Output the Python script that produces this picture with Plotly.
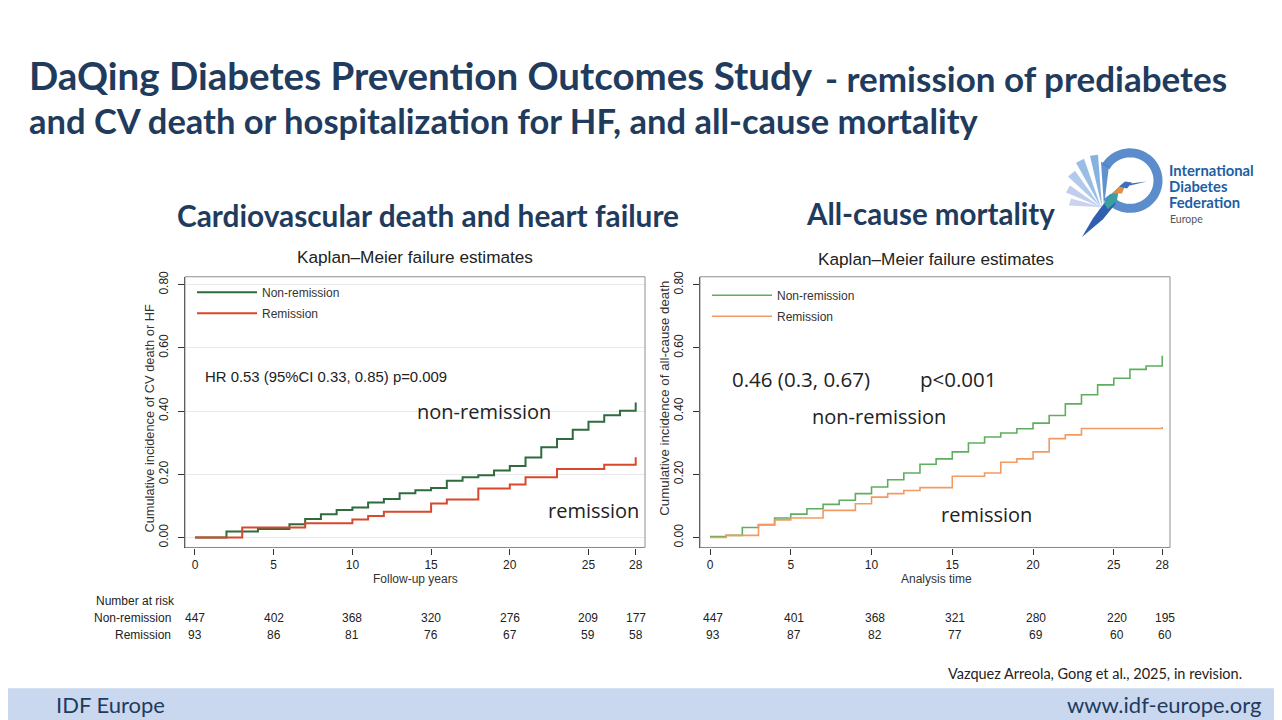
import math
import plotly.graph_objects as go

# ---------------- data ----------------
years_ticks = [0, 5, 10, 15, 20, 25, 28]

# Left: CV death or hospitalization for HF
cv_nonrem_t = [0, 2, 4, 6, 7, 8, 9, 10, 11, 12, 13, 14, 15, 16, 17, 18, 19, 20, 21, 22, 23, 24, 25, 26, 27, 28]
cv_nonrem_y = [0, 0.019, 0.027, 0.042, 0.059, 0.074, 0.087, 0.095, 0.111, 0.122, 0.140, 0.150, 0.157, 0.180,
               0.191, 0.197, 0.212, 0.226, 0.253, 0.286, 0.312, 0.341, 0.366, 0.387, 0.401, 0.427]
cv_rem_t = [0, 3, 7, 10, 11, 12, 15, 16, 18, 20, 21, 23, 26, 28]
cv_rem_y = [0, 0.032, 0.045, 0.057, 0.068, 0.082, 0.108, 0.120, 0.155, 0.168, 0.191, 0.217, 0.230, 0.254]

# Right: all-cause mortality
ac_nonrem_t = list(range(0, 29))
ac_nonrem_y = [0.003, 0.007, 0.032, 0.041, 0.062, 0.074, 0.091, 0.105, 0.118, 0.139, 0.160, 0.183, 0.204,
               0.232, 0.249, 0.271, 0.299, 0.318, 0.331, 0.344, 0.362, 0.386, 0.423, 0.452, 0.483, 0.504,
               0.532, 0.543, 0.575]
ac_rem_t = [0, 1, 3, 4, 5, 7, 9, 10, 11, 12, 13, 15, 17, 18, 19, 20, 21, 22, 23, 28]
ac_rem_y = [0, 0.007, 0.040, 0.056, 0.062, 0.086, 0.107, 0.128, 0.139, 0.149, 0.158, 0.194, 0.204, 0.238,
            0.249, 0.271, 0.313, 0.325, 0.345, 0.350]

# Number at risk
risk_cv_nonrem = [447, 402, 368, 320, 276, 209, 177]
risk_cv_rem = [93, 86, 81, 76, 67, 59, 58]
risk_ac_nonrem = [447, 401, 368, 321, 280, 220, 195]
risk_ac_rem = [93, 87, 82, 77, 69, 60, 60]

y_ticks = [0, 0.2, 0.4, 0.6, 0.8]
y_ticklabels = ["0.00", "0.20", "0.40", "0.60", "0.80"]

# ---------------- helpers (screen px -> paper; page has an 8px body margin) ----------------
OFF = 8
W, H = 1282 - OFF, 720 - OFF
def px(x):
    return (x - OFF) / W
def py(y):
    return 1 - (y - OFF) / H

NAVY = "#1f3b5e"
STATA = "Liberation Sans, Arial, sans-serif"
SLIDE = "Lato, Open Sans, sans-serif"
CAL = "Open Sans, sans-serif"

fig = go.Figure()

fig.add_trace(go.Scatter(x=cv_nonrem_t, y=cv_nonrem_y, mode="lines", line=dict(shape="hv", color="#2f6b3c", width=2),
                         name="Non-remission", xaxis="x", yaxis="y", legend="legend", legendgroup="a"))
fig.add_trace(go.Scatter(x=cv_rem_t, y=cv_rem_y, mode="lines", line=dict(shape="hv", color="#d8482c", width=2),
                         name="Remission", xaxis="x", yaxis="y", legend="legend", legendgroup="b"))
fig.add_trace(go.Scatter(x=ac_nonrem_t, y=ac_nonrem_y, mode="lines", line=dict(shape="hv", color="#5fae5f", width=1.6),
                         name="Non-remission", xaxis="x2", yaxis="y2", legend="legend2", legendgroup="c"))
fig.add_trace(go.Scatter(x=ac_rem_t, y=ac_rem_y, mode="lines", line=dict(shape="hv", color="#f29a62", width=1.6),
                         name="Remission", xaxis="x2", yaxis="y2", legend="legend2", legendgroup="d"))

axis_common = dict(ticks="outside", ticklen=6, tickcolor="#333", showline=True, linecolor="#333",
                   linewidth=1.2, zeroline=False, tickfont=dict(family=STATA, size=12, color="#222"))

fig.update_layout(
    width=W, height=H, margin=dict(l=0, r=0, t=0, b=0),
    paper_bgcolor="white", plot_bgcolor="white",
    xaxis=dict(domain=[px(185), px(645)], range=[-0.635, 28.59], tickvals=years_ticks, showgrid=False,
               anchor="y", **axis_common),
    yaxis=dict(domain=[py(546), py(273)], range=[-0.0314, 0.8251], tickvals=y_ticks, ticktext=y_ticklabels,
               tickangle=-90, showgrid=True, gridcolor="#e9e9e9", gridwidth=1, anchor="x",
               ticklabelstandoff=5, **axis_common),
    xaxis2=dict(domain=[px(700), px(1170)], range=[-0.62, 28.48], tickvals=years_ticks, showgrid=False,
                anchor="y2", **axis_common),
    yaxis2=dict(domain=[py(546), py(273)], range=[-0.0314, 0.8251], tickvals=y_ticks, ticktext=y_ticklabels,
                tickangle=-90, showgrid=False, anchor="x2", ticklabelstandoff=5, **axis_common),
    legend=dict(x=px(192), y=py(274), xanchor="left", yanchor="top", bgcolor="rgba(0,0,0,0)",
                font=dict(family=STATA, size=12, color="#333"), itemwidth=60, tracegroupgap=2,
                traceorder="grouped"),
    legend2=dict(x=px(707), y=py(277), xanchor="left", yanchor="top", bgcolor="rgba(0,0,0,0)",
                 font=dict(family=STATA, size=12, color="#333"), itemwidth=60, tracegroupgap=2,
                 traceorder="grouped"),
    showlegend=True,
)

shapes = []
def lerp(c1, c2, t):
    a = [int(c1[i:i+2], 16) for i in (1, 3, 5)]
    b = [int(c2[i:i+2], 16) for i in (1, 3, 5)]
    return "#%02x%02x%02x" % tuple(int(a[k] + (b[k] - a[k]) * t) for k in range(3))
# right frame strip (gradient green)
n = 12
for i in range(n):
    y0 = OFF + (720 - OFF) * i / n
    y1 = OFF + (720 - OFF) * (i + 1) / n
    c = lerp("#0c4626", "#2a9150", (i / (n - 1)) ** 1.5)
    shapes.append(dict(type="rect", xref="paper", yref="paper", x0=px(1274), x1=1, y0=py(y1), y1=py(y0),
                       fillcolor=c, line=dict(width=0), layer="below"))
# footer band
shapes.append(dict(type="rect", xref="paper", yref="paper", x0=0, x1=px(1274), y0=0, y1=py(688),
                   fillcolor="#c9d8ee", line=dict(width=0), layer="below"))
# plot boxes
for xr, yr in (("x domain", "y domain"), ("x2 domain", "y2 domain")):
    shapes.append(dict(type="rect", xref=xr, yref=yr, x0=0, x1=1, y0=0, y1=1,
                       line=dict(color="#8f8f8f", width=1), layer="above"))

# ---- logo: ring ----
cx, cy, r = 1130, 176, 28
pts = []
a_start, a_end = 150, -145
steps = 60
for k in range(steps + 1):
    a = math.radians(a_start + (a_end - a_start) * k / steps)
    pts.append((cx + r * math.cos(a), cy - r * math.sin(a)))
path = "M " + " L ".join(f"{px(x):.5f},{py(y):.5f}" for x, y in pts)
shapes.append(dict(type="path", xref="paper", yref="paper", path=path, line=dict(color="#5b8ccb", width=9)))

def poly(points, color, opacity=1.0):
    p = "M " + " L ".join(f"{px(x):.5f},{py(y):.5f}" for x, y in points) + " Z"
    return dict(type="path", xref="paper", yref="paper", path=p, fillcolor=color, line=dict(width=0), opacity=opacity)

# wing feathers
shapes.append(poly([(1101, 203), (1066, 188), (1070, 181)], "#b9c9ec", 0.9))
shapes.append(poly([(1101, 203), (1068, 172), (1075, 166)], "#a9c4ea", 0.9))
shapes.append(poly([(1101, 203), (1076, 158), (1084, 154)], "#8fb6e3", 0.9))
shapes.append(poly([(1102, 203), (1090, 151), (1098, 150)], "#7aa8dc", 0.9))
shapes.append(poly([(1103, 203), (1069, 201), (1071, 194)], "#c5cdee", 0.9))
shapes.append(poly([(1104, 202), (1101, 157), (1109, 161)], "#4f86c8", 0.9))
# body
shapes.append(poly([(1082, 233), (1093, 214), (1104, 199), (1112, 189), (1119, 183), (1115, 200), (1103, 215)],
                   "#2f5fae"))
shapes.append(poly([(1104, 199), (1112, 189), (1119, 183), (1117, 196), (1108, 205)], "#3aa0a0"))
shapes.append(poly([(1112, 189), (1119, 182), (1126, 179), (1122, 189)], "#e0904a"))
shapes.append(poly([(1119, 182), (1125, 177), (1132, 178), (1127, 184)], "#3f6fb8"))
shapes.append(poly([(1130, 179), (1147, 177), (1130, 181)], "#3f6fb8"))

fig.update_layout(shapes=shapes)

ann = []
def A(text, x, y, size, color="#222", family=STATA, xanchor="left", yanchor="middle", xref="paper", yref="paper",
      bold=False, textangle=0, xshift=0, yshift=0):
    t = f"<b>{text}</b>" if bold else text
    ann.append(dict(text=t, x=x, y=y, xref=xref, yref=yref, xanchor=xanchor, yanchor=yanchor, showarrow=False,
                    font=dict(family=family, size=size, color=color), textangle=textangle,
                    xshift=xshift, yshift=yshift))

# slide titles
A("DaQing Diabetes Prevention Outcomes Study", px(27), py(70), 38.5, NAVY, SLIDE, bold=True)
A("- remission of prediabetes", px(1229), py(73), 35, NAVY, SLIDE, xanchor="right", bold=True)
A("and CV death or hospitalization for HF, and all-cause mortality", px(27), py(115), 34.5, NAVY, SLIDE, bold=True)
A("Cardiovascular death and heart failure", px(428), py(211), 29.8, NAVY, SLIDE, xanchor="center", bold=True)
A("All-cause mortality", px(930), py(209), 29.5, NAVY, SLIDE, xanchor="center", bold=True)

# logo text
A("International", px(1167), py(165), 14.8, "#1d5ea5", SLIDE, bold=True)
A("Diabetes", px(1167), py(181.5), 14.8, "#1d5ea5", SLIDE, bold=True)
A("Federation", px(1167), py(198), 14.8, "#1d5ea5", SLIDE, bold=True)
A("Europe", px(1168), py(215), 10.5, "#555", SLIDE)

# chart titles
A("Kaplan\u2013Meier failure estimates", px(415), py(253), 17.2, "#222", STATA, xanchor="center")
A("Kaplan\u2013Meier failure estimates", px(936), py(255), 17.2, "#222", STATA, xanchor="center")

# axis titles
A("Follow-up years", px(415), py(578), 12, "#333", STATA, xanchor="center")
A("Analysis time", px(936), py(578), 12, "#333", STATA, xanchor="center")
A("Cumulative incidence of CV death or HF", px(150), py(416), 12.8, "#333", STATA, xanchor="center", textangle=-90)
A("Cumulative incidence of all-cause death", px(665), py(396), 13.3, "#333", STATA, xanchor="center", textangle=-90)

# in-chart annotations
A("HR 0.53 (95%CI 0.33, 0.85) p=0.009", 0.5, 0.507, 14.9, "#222", STATA, xref="x", yref="y")
A("non-remission", 14.0, 0.400, 20, "#222", CAL, xref="x", yref="y")
A("remission", 22.3, 0.087, 20, "#222", CAL, xref="x", yref="y")
A("0.46 (0.3, 0.67)", 1.24, 0.503, 20.5, "#222", CAL, xref="x2", yref="y2")
A("p<0.001", 12.85, 0.503, 20.5, "#222", CAL, xref="x2", yref="y2")
A("non-remission", 6.2, 0.384, 20, "#222", CAL, xref="x2", yref="y2")
A("remission", 14.2, 0.072, 20, "#222", CAL, xref="x2", yref="y2")

# number at risk tables
A("Number at risk", px(94), py(600), 12, "#222", STATA)
A("Non-remission", px(173), py(617), 12, "#222", STATA, xanchor="right")
A("Remission", px(173), py(634), 12, "#222", STATA, xanchor="right")
for t, a_, b_ in zip(years_ticks, risk_cv_nonrem, risk_cv_rem):
    A(str(a_), t, py(617), 12, "#222", STATA, xanchor="center", xref="x")
    A(str(b_), t, py(634), 12, "#222", STATA, xanchor="center", xref="x")
for t, a_, b_ in zip(years_ticks, risk_ac_nonrem, risk_ac_rem):
    A(str(a_), t, py(617), 12, "#222", STATA, xanchor="center", xref="x2", xshift=3)
    A(str(b_), t, py(634), 12, "#222", STATA, xanchor="center", xref="x2", xshift=3)

# citation & footer
A("Vazquez Arreola, Gong et al., 2025, in revision.", px(1244), py(673), 14.5, "#222", SLIDE, xanchor="right")
A("IDF Europe", px(54), py(704), 22, "#1f3b5e", SLIDE)
A("www.idf-europe.org", px(1263), py(704), 22, "#1f3b5e", SLIDE, xanchor="right")

fig.update_layout(annotations=ann)

fig.write_html("out.html")
